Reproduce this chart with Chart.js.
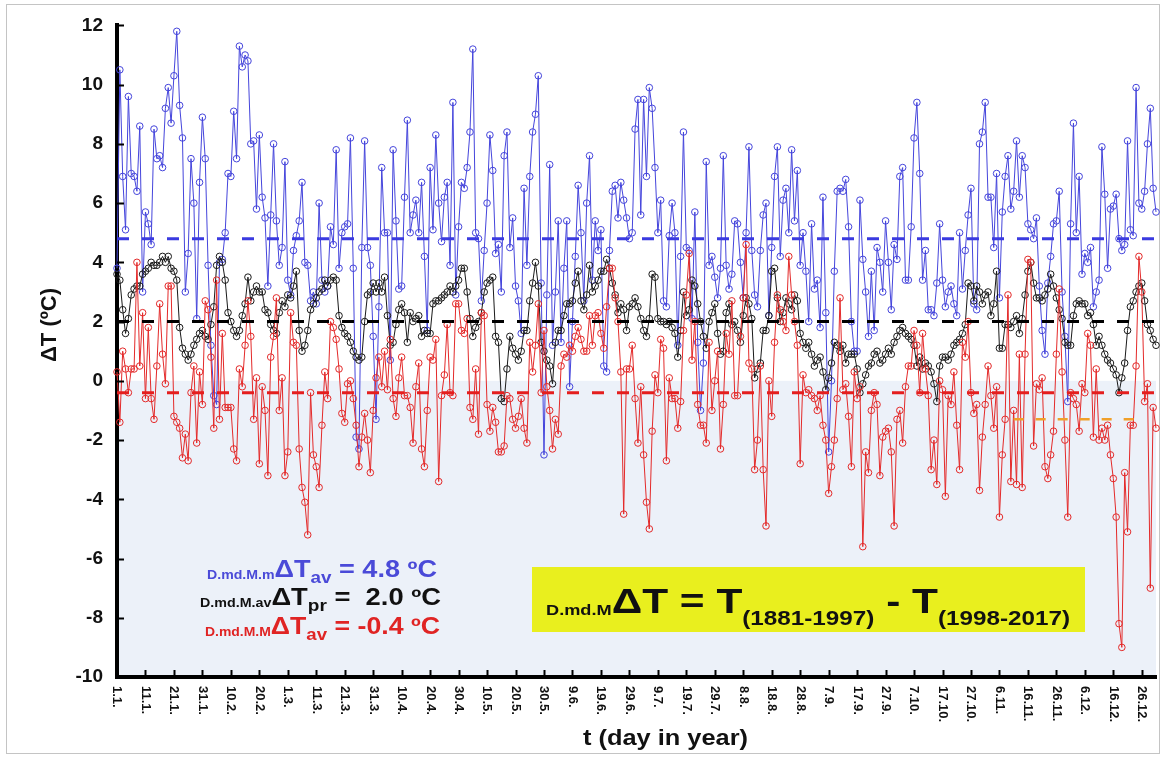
<!DOCTYPE html>
<html>
<head>
<meta charset="utf-8">
<script src="https://cdn.jsdelivr.net/npm/chart.js@4.4.0/dist/chart.umd.min.js"></script>
<style>
  html, body { margin: 0; padding: 0; background: #fff; }
</style>
</head>
<body>
<canvas id="dtChart" width="1166" height="758"></canvas>
<script>
// day labels for a leap year, d.m.
const monthDays = [31, 29, 31, 30, 31, 30, 31, 31, 30, 31, 30, 31];
const dayLabels = [];
monthDays.forEach((n, m) => {
  for (let d = 1; d <= n; d++) dayLabels.push(d + "." + (m + 1) + ".");
});
const tickStep = 10;
const xTickLabels = dayLabels.filter((_, i) => i % tickStep === 0);

// daily ΔT of the maxima (blue), averages (black) and minima (red)
const blueDT = [
  3.8, 10.5, 6.9, 5.1, 9.6, 7.0, 6.9, 6.4, 8.6, 3.0,
  5.7, 5.3, 4.6, 8.5, 7.5, 7.6, 7.2, 9.2, 9.9, 8.7,
  10.3, 11.8, 9.3, 8.2, 3.0, 4.3, 7.5, 6.0, 2.1, 6.7,
  8.9, 7.5, 3.9, 1.2, -0.5, -0.8, 4.0, 4.1, 5.0, 7.0,
  6.9, 9.1, 7.5, 11.3, 10.6, 11.0, 10.8, 8.0, 8.1, 5.8,
  8.3, 6.2, 5.5, 3.2, 5.6, 8.0, 5.4, 3.9, 4.5, 7.4,
  3.4, 2.9, 4.4, 4.9, 5.4, 6.7, 4.0, 3.9, 2.7, 3.0,
  2.6, 6.0, 3.4, 3.0, 3.2, 5.2, 4.6, 7.8, 3.8, 5.0,
  5.2, 5.3, 8.2, 3.8, -1.9, -2.3, 4.5, 8.1, 4.5, 3.9,
  1.5, -1.3, 2.5, 7.2, 5.0, 5.0, 0.7, 7.8, 5.4, 3.1,
  3.2, 6.2, 8.8, 5.0, 5.6, 6.1, 5.0, 6.7, 4.2, 1.7,
  7.2, 5.1, 8.3, 6.0, 4.7, 6.2, 6.7, 3.9, 9.4, 2.9,
  5.2, 6.7, 6.5, 7.2, 8.4, 11.2, 5.0, 4.8, 2.7, 4.4,
  6.0, 8.3, 7.1, 4.3, 4.6, 3.0, 7.6, 8.4, 4.5, 5.5,
  3.2, 2.7, 1.6, 6.5, 3.9, 6.9, 8.4, 9.0, 10.3, 3.3,
  -2.5, 2.9, 7.3, 1.2, 3.0, 5.4, 1.3, 3.8, 5.4, -0.2,
  2.0, 4.2, 6.6, 5.0, 2.7, 6.0, 7.6, 3.4, 5.4, 4.4,
  5.1, 0.5, 0.3, 4.4, 6.4, 6.6, 5.5, 6.7, 6.1, 5.5,
  4.8, 5.0, 8.5, 9.5, 5.6, 9.5, 6.9, 9.9, 9.2, 7.2, 5.0,
  6.1, 2.7, 2.5, 4.9, 6.0, 5.0, 1.2, 4.2, 8.4, 4.5,
  4.4, 2.1, 5.7, 1.3, -1.0, 0.6, 7.4, 3.9, 4.2, 3.5,
  2.8, 3.8, 7.6, 3.9, 3.1, 3.6, 5.4, 5.3, 4.0, 2.8,
  5.0, 7.9, 4.4, 2.9, 2.5, 4.4, 5.6, 6.0, 2.2, 4.5,
  6.9, 7.9, 4.2, 6.1, 6.5, 5.0, 7.8, 5.4, 7.1, 3.9,
  5.0, 3.7, 2.0, 5.3, 3.1, 3.4, 1.8, 6.2, 2.3, -2.4,
  0.0, 3.7, 6.4, 6.5, 6.4, 6.8, 5.2, 2.0, 1.0, 1.0,
  6.1, 4.1, 3.0, 1.5, 3.7, 1.7, 4.5, 4.0, 3.0, 5.4,
  4.0, 2.4, 4.6, 4.1, 6.9, 7.2, 3.4, 3.4, 5.2, 8.2,
  9.4, 7.0, 3.4, 4.4, 2.4, 2.4, 2.2, 3.3, 5.3, 3.4,
  2.5, 3.0, 3.2, 2.6, 2.2, 5.0, 3.1, 4.4, 5.6, 6.5,
  2.6, 2.4, 8.0, 8.4, 9.4, 6.2, 6.2, 4.5, 7.0, 2.8,
  5.7, 6.9, 7.6, 5.8, 6.4, 8.1, 6.2, 7.6, 7.2, 5.3,
  5.1, 4.8, 5.5, 3.2, 1.7, 0.9, 3.3, 4.2, 5.3, 5.4,
  6.4, 3.0, 1.5, -0.7, 5.3, 8.7, 5.0, 6.9, 3.6, 4.3,
  4.0, 4.5, 2.5, 3.0, 3.4, 7.9, 6.3, 3.8, 5.8, 5.9,
  6.3, 4.8, 4.4, 4.6, 8.1, 5.1, 4.9, 9.9, 6.0, 5.8,
  6.4, 8.0, 9.2, 6.5, 5.7
];

const blackDT = [
  3.6, 3.4, 2.4, 1.6, 2.1, 2.9, 3.1, 3.2, 3.2, 3.6,
  3.7, 3.8, 4.0, 3.9, 3.9, 4.0, 4.2, 4.0, 4.2, 3.8,
  3.7, 3.4, 1.8, 1.1, 0.9, 0.7, 0.9, 1.2, 1.4, 1.6,
  1.7, 1.5, 1.4, 1.9, 2.5, 3.9, 4.2, 4.0, 3.4, 2.3,
  2.0, 1.7, 1.5, 1.7, 2.2, 2.6, 3.5, 2.7, 3.0, 3.2,
  3.0, 3.0, 2.4, 2.3, 1.9, 1.7, 1.6, 2.3, 2.7, 2.5,
  2.9, 2.8, 3.2, 3.7, 1.7, 1.0, 1.2, 1.7, 2.4, 2.6,
  2.8, 3.0, 3.1, 3.4, 3.2, 3.4, 3.5, 3.4, 2.2, 1.8,
  1.6, 1.5, 1.3, 1.0, 0.8, 0.7, 0.8, 2.0, 2.9, 3.0,
  3.3, 3.0, 3.3, 3.0, 3.5, 2.2, 1.2, 1.3, 1.9, 2.4,
  2.6, 2.3, 1.3, 2.3, 2.0, 2.1, 2.2, 1.5, 1.7, 1.6,
  1.6, 2.6, 2.7, 2.7, 2.8, 2.9, 3.0, 3.2, 3.0, 3.2,
  3.4, 3.8, 3.8, 3.0, 2.1, 1.5, 1.8, 2.0, 2.3, 3.0,
  3.3, 3.4, 3.5, 1.5, 1.3, -0.6, -0.7, 0.4, 1.5, 1.1,
  0.9, 0.7, 1.0, 1.7, 1.7, 2.7, 3.3, 4.0, 3.2, 1.3,
  1.0, 0.7, 0.5, -0.1, 1.3, 1.7, 1.7, 2.2, 2.6, 2.6,
  2.7, 3.3, 3.7, 2.7, 2.4, 2.9, 3.9, 3.0, 3.2, 3.4,
  3.7, 3.7, 4.1, 3.8, 3.3, 2.9, 2.3, 2.6, 2.4, 1.7,
  2.5, 2.6, 2.8, 2.5, 2.1, 1.7, 1.5, 2.1, 3.6, 3.5, 2.1,
  2.0, 2.0, 1.9, 2.0, 1.8, 1.6, 0.8, 1.7, 3.0, 2.2,
  2.4, 3.4, 3.2, 2.6, 2.0, 1.5, 1.1, 2.0, 2.3, 2.6,
  1.6, 0.9, 1.0, 2.3, 2.6, 1.9, 2.0, 1.7, 1.3, 2.2,
  2.8, 2.6, 2.1, 0.1, 0.4, 0.6, 1.7, 1.7, 2.2, 3.7,
  3.8, 2.8, 2.0, 2.3, 2.8, 2.6, 2.4, 2.9, 2.7, 1.6,
  1.3, 1.1, 1.3, 0.9, 0.5, 0.7, 0.8, 0.3, -0.3, 0.1,
  0.6, 1.3, 1.2, 1.0, 1.2, 0.6, 0.9, 0.9, 0.9, 0.4,
  -0.4, -0.1, 0.2, 0.5, 0.6, 0.9, 1.0, 0.6, 0.7, 0.9,
  1.1, 0.9, 1.3, 1.5, 1.7, 1.8, 1.6, 1.5, 1.4, 1.2,
  0.5, 0.8, 0.4, 0.6, 0.5, 0.3, -0.1, -0.7, 0.5, 0.8,
  0.8, 0.7, 0.9, 1.2, 1.3, 1.4, 1.6, 1.9, 3.3, 3.2,
  2.7, 3.2, 3.0, 2.6, 2.9, 3.0, 2.2, 2.6, 3.7, 1.1,
  1.1, 1.9, 1.9, 1.8, 2.0, 2.2, 1.6, 2.1, 2.9, 3.7,
  4.0, 3.3, 2.8, 2.8, 2.7, 2.9, 3.1, 3.6, 3.2, 2.8,
  2.4, 2.1, 1.3, 1.2, 1.2, 2.2, 2.6, 2.7, 2.6, 2.6,
  2.2, 2.3, 1.9, 1.2, 1.5, 1.2, 0.9, 0.7, 0.6, 0.4,
  0.2, -0.4, 0.1, 0.6, 1.7, 2.5, 2.7, 3.0, 3.2, 3.3,
  2.7, 1.9, 1.7, 1.4, 1.2
];

const redDT = [
  0.3, -1.4, 1.0, 0.4, -0.4, 0.4, 0.4, 4.0, 0.5, 2.3,
  -0.6, 1.8, -0.6, -1.3, 0.5, 2.6, 0.9, -0.1, 3.2, 3.2,
  -1.2, -1.4, -1.6, -2.6, -1.8, -2.7, -0.4, 0.5, -2.1, 0.3,
  -0.8, 2.7, 2.4, 0.8, -1.6, 3.4, -1.3, 1.6, -0.9, -0.9,
  -0.9, -2.3, -2.7, 0.4, -0.2, 1.2, 2.7, 1.5, -1.3, 0.1,
  -2.8, -0.2, -1.0, -3.2, 0.8, 1.5, 2.8, -1.0, 0.1, -3.2,
  -2.4, 2.3, 1.3, 1.2, -2.3, -3.6, -4.1, -5.2, -0.4, -2.5,
  -2.9, -3.6, -1.5, 0.3, -0.6, 2.0, 1.8, 1.4, 0.4, -1.1,
  -1.4, -0.1, 0.0, -0.6, -1.5, -2.9, -1.9, -1.1, -2.0, -3.1,
  -1.0, 0.1, 0.8, -0.2, 1.0, -0.3, 1.4, -0.6, -1.2, 0.1,
  0.8, -0.5, -0.5, -0.9, -2.1, -0.2, 0.6, -2.3, -2.9, -1.0,
  0.8, 0.7, 1.4, -3.4, -0.5, 0.2, 1.9, -0.4, -0.5, 2.6,
  2.6, 1.7, 1.6, 2.1, -0.9, -1.3, 0.4, -1.8, 2.3, 2.2,
  -0.8, -1.7, -0.9, -1.4, -2.4, -2.4, -2.2, -0.5, -0.6, -1.3,
  -1.6, -1.2, -0.6, -1.6, -2.1, 1.3, 0.3, 1.2, 2.6, -0.4,
  1.7, -0.2, -1.0, -2.3, -1.3, -1.8, 0.5, 0.9, 0.8, 1.2,
  1.0, 1.5, 1.8, 1.4, 1.0, 1.0, 2.2, 1.2, 2.2, 2.3,
  1.6, 1.1, 2.5, 3.8, 3.8, 2.8, 2.0, 0.3, -4.5, 0.4,
  0.4, 1.2, -0.6, -2.1, -0.2, -2.5, -4.1, -5.0, -1.7, 0.2, -0.4,
  1.4, 1.1, -2.7, 0.1, -0.6, -0.6, -1.6, -0.7, 1.7, 2.9,
  4.3, 0.7, 2.0, -0.8, -1.5, -1.5, -2.1, 1.3, -1.0, 0.0,
  1.0, -2.3, -0.8, 1.6, 0.9, 2.7, -0.5, -0.5, 1.5, 2.8,
  4.6, 0.6, 0.4, -3.0, -2.0, 0.5, -3.0, -4.9, 0.0, -1.2,
  1.3, 2.9, 2.4, 2.0, 1.7, 4.2, 2.9, 2.0, 1.2, -2.8,
  0.2, -0.4, -0.3, -0.5, -0.6, -1.0, -0.5, -1.5, -2.0, -3.8,
  -2.9, -2.0, -0.6, 2.8, -0.3, -0.1, -1.2, -2.9, 0.3, -0.6,
  -0.2, -5.6, -2.4, -3.1, -1.0, -0.4, -0.8, -3.2, -1.9, -1.7,
  -1.6, -2.4, -4.9, -1.3, -1.0, -2.1, -0.2, 0.5, 0.5, 1.7,
  1.2, -0.4, 1.6, 0.4, -0.5, -3.0, -2.0, -3.5, 0.0, -0.3,
  -3.9, -0.5, -0.8, 0.3, -1.5, -3.0, 1.3, 0.8, 2.0, -0.4,
  -1.1, -0.8, -3.7, -1.9, -0.8, 0.5, -0.5, -1.6, -0.2, -4.6,
  -2.5, -1.3, 2.9, -3.4, -1.0, -3.5, 0.9, -3.6, 0.9, 4.1,
  4.0, -2.2, -0.1, -0.3, 0.1, -2.9, -3.3, -2.5, -1.7, 0.9,
  3.1, 0.3, -2.0, -4.6, -0.4, -0.6, -0.8, -1.7, -0.1, -0.4,
  1.6, 1.2, -1.9, 0.4, -2.0, -1.6, -2.0, -1.5, -2.5, -3.3,
  -4.6, -8.2, -9.0, -3.1, -5.1, -1.5, -1.5, 0.5, 4.2, 3.0,
  -0.7, -0.1, -7.0, -0.9, -1.6
];

// averages shown as dashed levels
const blueMean = 4.8;
const blackMean = 2.0;
const redMean = -0.4;
// short orange level in November/December
const orangeLevel = -1.3;
const orangeFrom = 315;
const orangeTo = 361;

const FAMILY = "'Liberation Sans', Arial, sans-serif";
const blueCol = "#4545dc";
const blackCol = "#1a1a1a";
const redCol = "#e42a2a";
const orangeCol = "#f0a02a";

function seriesSet(label, data, color, order) {
  return {
    label, data, order,
    borderColor: color,
    borderWidth: 1,
    pointRadius: 3.3,
    pointBorderWidth: 1,
    pointBorderColor: color,
    pointBackgroundColor: "rgba(0,0,0,0)",
    tension: 0,
    clip: false
  };
}

function levelSet(label, value, color, order, from, to, width, dash) {
  return {
    label, order,
    data: dayLabels.map((_, i) => (i >= from && i <= to ? value : null)),
    borderColor: color,
    borderWidth: width,
    borderDash: dash,
    pointRadius: 0,
    clip: false
  };
}

function bold(size) {
  return "bold " + size + "px " + FAMILY;
}

// draws a row of text pieces [text, size, dy] stretched to a given width
function drawRuns(ctx, runs, x, y, width, color) {
  let natural = 0;
  runs.forEach(r => { ctx.font = bold(r[1]); natural += ctx.measureText(r[0]).width; });
  ctx.save();
  ctx.translate(x, y);
  ctx.scale(width / natural, 1);
  ctx.fillStyle = color;
  ctx.textAlign = "left";
  ctx.textBaseline = "alphabetic";
  let cx = 0;
  runs.forEach(r => {
    ctx.font = bold(r[1]);
    ctx.fillText(r[0], cx, r[2]);
    cx += ctx.measureText(r[0]).width;
  });
  ctx.restore();
}

const decor = {
  id: "decor",
  beforeDraw(chart) {
    const { ctx, chartArea: a } = chart;
    const y = chart.scales.y;
    ctx.save();
    ctx.fillStyle = "#fff";
    ctx.fillRect(0, 0, chart.width, chart.height);
    ctx.strokeStyle = "#c4c4c4";
    ctx.lineWidth = 1;
    ctx.strokeRect(6.5, 4.5, chart.width - 13, chart.height - 9);
    // shaded band below zero
    const y0 = y.getPixelForValue(0);
    ctx.fillStyle = "#ecf1f9";
    ctx.fillRect(a.left, y0, a.right - a.left, a.bottom - y0);
    ctx.restore();
  },
  afterDraw(chart) {
    const { ctx, chartArea: a } = chart;
    const x = chart.scales.x;
    const y = chart.scales.y;
    ctx.save();

    // inner tick marks
    ctx.strokeStyle = "#000";
    ctx.lineWidth = 2;
    for (let v = -10; v <= 12; v += 2) {
      const py = Math.round(y.getPixelForValue(v)) + 0.5;
      ctx.beginPath(); ctx.moveTo(a.left, py); ctx.lineTo(a.left + 7, py); ctx.stroke();
    }
    for (let i = 0; i < dayLabels.length; i += tickStep) {
      const px = Math.round(x.getPixelForValue(i)) + 0.5;
      ctx.beginPath(); ctx.moveTo(px, a.bottom); ctx.lineTo(px, a.bottom - 7); ctx.stroke();
    }

    // date labels, reading downwards
    ctx.fillStyle = "#111";
    ctx.font = bold(13);
    ctx.textAlign = "left";
    ctx.textBaseline = "middle";
    xTickLabels.forEach((lab, k) => {
      const px = x.getPixelForValue(k * tickStep);
      ctx.save();
      ctx.translate(px, a.bottom + 9);
      ctx.rotate(Math.PI / 2);
      ctx.fillText(lab, 0, 0);
      ctx.restore();
    });

    // axis titles
    ctx.save();
    ctx.translate(56, 325);
    ctx.rotate(-Math.PI / 2);
    ctx.font = bold(22);
    ctx.textAlign = "center";
    ctx.textBaseline = "alphabetic";
    ctx.fillStyle = "#111";
    ctx.fillText("ΔT (ºC)", 0, 0);
    ctx.restore();
    drawRuns(ctx, [["t (day in year)", 22, 0]], 583, 745, 165, "#111");

    // averages block
    drawRuns(ctx, [["D.md.M.m", 12, 2], ["ΔT", 23, 0], ["av", 16, 6],
      [" = " + blueMean.toFixed(1) + " ºC", 23, 0]], 207, 577, 230, "#4a4ad8");
    drawRuns(ctx, [["D.md.M.av", 12, 2], ["ΔT", 23, 0], ["pr", 16, 6],
      [" =  " + blackMean.toFixed(1) + " ºC", 23, 0]], 200, 605, 241, "#111");
    drawRuns(ctx, [["D.md.M.M", 12, 2], ["ΔT", 23, 0], ["av", 16, 6],
      [" = " + redMean.toFixed(1) + " ºC", 23, 0]], 205, 634, 235, "#e02424");

    // definition box
    ctx.fillStyle = "#e9ef1e";
    ctx.fillRect(532, 567, 553, 65);
    drawRuns(ctx, [["D.md.M", 15, 2], ["ΔT", 35, 0], [" = T", 35, 0], ["(1881-1997)", 20, 12],
      [" - T", 35, 0], ["(1998-2017)", 20, 12]], 546, 613, 524, "#111");

    ctx.restore();
  }
};

new Chart(document.getElementById("dtChart"), {
  type: "line",
  data: {
    labels: dayLabels,
    datasets: [
      levelSet("mean max", blueMean, "#3a3ae0", 0, 0, dayLabels.length - 1, 3, [12, 13]),
      levelSet("mean avg", blackMean, "#000", 0, 0, dayLabels.length - 1, 3, [12, 13]),
      levelSet("mean min", redMean, "#e41e1e", 0, 0, dayLabels.length - 1, 3, [12, 13]),
      levelSet("level", orangeLevel, orangeCol, 0, orangeFrom, orangeTo, 2.5, [10, 12]),
      seriesSet("D.md.M.M", redDT, redCol, 1),
      seriesSet("D.md.M.av", blackDT, blackCol, 2),
      seriesSet("D.md.M.m", blueDT, blueCol, 3)
    ]
  },
  options: {
    responsive: false,
    animation: false,
    layout: { padding: { left: 0, right: 10, top: 25, bottom: 0 } },
    plugins: {
      legend: { display: false },
      tooltip: { enabled: false }
    },
    scales: {
      x: {
        type: "category",
        grid: { display: false, drawTicks: false },
        border: { display: true, width: 4, color: "#000" },
        ticks: { display: false },
        afterFit: s => { s.height = 81; }
      },
      y: {
        min: -10,
        max: 12,
        grid: { display: false, drawTicks: false },
        border: { display: true, width: 4, color: "#000" },
        ticks: {
          stepSize: 2,
          padding: 14,
          color: "#111",
          font: { family: FAMILY, size: 19, weight: "bold" }
        },
        afterFit: s => { s.width = 117; }
      }
    }
  },
  plugins: [decor]
});
</script>
</body>
</html>
